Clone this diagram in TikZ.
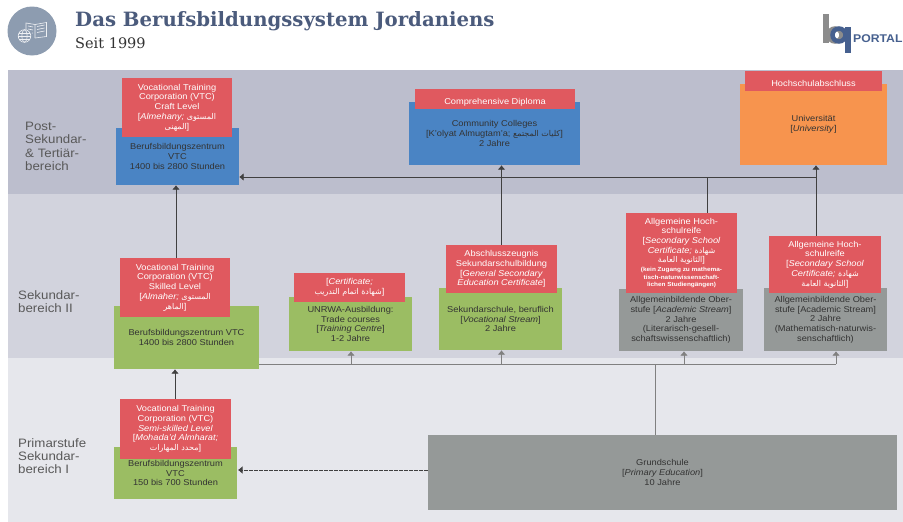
\documentclass[tikz,border=0pt]{standalone}
\usepackage{fontspec}
\setmainfont[FakeStretch=1.09]{Liberation Sans}
\newfontfamily\titlefont{DejaVu Serif}
\newfontfamily\arabicfont[Script=Arabic]{DejaVu Sans}
\TeXXeTstate=1
\newcommand{\arab}[1]{{\arabicfont\fontsize{8}{9.7}\selectfont\beginR #1\endR}}
\newcommand{\notefont}{\bfseries\fontsize{5.9}{7.4}\selectfont}
\usetikzlibrary{arrows.meta}
\definecolor{bandA}{HTML}{BCBECD}
\definecolor{bandB}{HTML}{D2D3DD}
\definecolor{bandC}{HTML}{E6E7EC}
\definecolor{redBox}{HTML}{E0595F}
\definecolor{blueBox}{HTML}{4A84C4}
\definecolor{greenBox}{HTML}{9BBD63}
\definecolor{orangeBox}{HTML}{F7944E}
\definecolor{greyBox}{HTML}{959998}
\definecolor{slate}{HTML}{4B5B7C}
\definecolor{iconGrey}{HTML}{8D9CB0}
\definecolor{logoBlue}{HTML}{46608F}

\begin{document}
\begin{tikzpicture}[
            x=1pt, y=-1pt,
            box/.style={inner sep=0pt, align=center, text=black!80, font=\fontsize{8.5}{9.7}\selectfont,
                execute at begin node=\rule{0pt}{12pt}},
            redbox/.style={box, fill=redBox, text=white},
            bluebox/.style={box, fill=blueBox},
            greenbox/.style={box, fill=greenBox},
            orangebox/.style={box, fill=orangeBox},
            greybox/.style={box, fill=greyBox},
            level/.style={inner sep=0pt, align=left, anchor=north west, text=black!65,
                font=\fontsize{12.2}{13.4}\selectfont},
            conn/.style={draw=black!75, line width=1pt},
            bus/.style={draw=black!50, line width=1pt},
            arr/.style={-{Latex[length=4.5pt,width=8pt]}}]
            \useasboundingbox (0,0) rectangle (903,522);
            \fill[white] (0,0) rectangle (903,522);
            \fill[bandA] (8,70) rectangle (903,194);
            \fill[bandB] (8,194) rectangle (903,358);
            \fill[bandC] (8,358) rectangle (903,522);

            \fill[iconGrey] (32,31) circle (24.5);
            \begin{scope}[draw=white!85!iconGrey, line width=0.6pt]
                \draw (26,30) -- (26,23) -- (35,24.5) -- (35,38);
                \draw (35,24.5) -- (46.5,22.5) -- (46.5,36.5) -- (35,38);
                \draw (28,26) -- (33,27) (28,29) -- (33,30) (32,33) -- (33,33.2);
                \draw (37,26.5) -- (44.5,25) (37,29.5) -- (44.5,28) (37,32.5) -- (44.5,31);
                \draw (24.5,36) circle (6.3);
                \draw (24.5,36) ellipse (2.6 and 6.3);
                \draw (18.2,36) -- (30.8,36) (19.2,33) -- (29.8,33) (19.2,39) -- (29.8,39);
            \end{scope}

            \node[inner sep=0pt, anchor=base west, text=slate] (title) at (75,27)
                {\titlefont\bfseries\fontsize{19.7}{22}\selectfont Das Berufsbildungssystem Jordaniens};
            \node[inner sep=0pt, anchor=base west, text=black!80] (subtitle) at (75,48)
                {\titlefont\fontsize{14.5}{16}\selectfont Seit 1999};

            \fill[black!45] (823,14) rectangle (828.5,43);
            \draw[black!45, line width=4.5pt] (835,35) circle (6.5);
            \draw[logoBlue, line width=4.5pt] (839,35) circle (6.5);
            \fill[logoBlue] (845,27) rectangle (850.5,53);
            \node[inner sep=0pt, anchor=base west, text=logoBlue] (portal) at (853,42)
                {\bfseries\fontsize{11.2}{14}\selectfont PORTAL};

            \node[level] (postLabel) at (25,122) {Post-\\Sekundar-\\\& Tertiär-\\bereich};
            \node[level] (sekLabel) at (18,290) {Sekundar-\\bereich II};
            \node[level] (primLabel) at (18,438) {Primarstufe\\Sekundar-\\bereich I};

            \node[bluebox, minimum width=123pt, minimum height=57pt] (craftCentre) at (177.5,156.5)
                {Berufsbildungszentrum\\VTC\\1400 bis 2800 Stunden};
            \node[redbox, minimum width=110pt, minimum height=59pt] (craftCert) at (177,107.5)
                {Vocational Training\\Corporation (VTC)\\Craft Level\\{[}\textit{Almehany;} \arab{المستوى}\\\arab{المهنى}{]}};
            \node[bluebox, minimum width=171pt, minimum height=63pt] (college) at (494.5,133.5)
                {Community Colleges\\{[}K'olyat Almugtam'a; \arab{كليات المجتمع}{]}\\2 Jahre};
            \node[redbox, minimum width=160pt, minimum height=20pt] (diploma) at (495,99)
                {Comprehensive Diploma};
            \node[orangebox, minimum width=147pt, minimum height=81pt] (uni) at (813.5,124.5)
                {Universität\\{[}\textit{University}{]}};
            \node[redbox, minimum width=137pt, minimum height=20pt] (degree) at (813.5,81)
                {Hochschulabschluss};

            \node[greenbox, minimum width=145pt, minimum height=63pt] (skilledCentre) at (186.5,337.5)
                {Berufsbildungszentrum VTC\\1400 bis 2800 Stunden};
            \node[redbox, minimum width=110pt, minimum height=59pt] (skilledCert) at (175,287.5)
                {Vocational Training\\Corporation (VTC)\\Skilled Level\\{[}\textit{Almaher;} \arab{المستوى}\\\arab{الماهر}{]}};
            \node[greenbox, minimum width=123pt, minimum height=54pt] (unrwa) at (350.5,324)
                {UNRWA-Ausbildung:\\Trade courses\\{[}\textit{Training Centre}{]}\\1-2 Jahre};
            \node[redbox, minimum width=111pt, minimum height=29pt] (unrwaCert) at (349.5,287.5)
                {{[}\textit{Certificate;}\\\arab{شهادة اتمام التدريب}{]}};
            \node[greenbox, minimum width=123pt, minimum height=62pt] (vocSchool) at (500.5,319)
                {Sekundarschule, beruflich\\{[}\textit{Vocational Stream}{]}\\2 Jahre};
            \node[redbox, minimum width=111pt, minimum height=48pt] (vocCert) at (501.5,269)
                {Abschlusszeugnis\\Sekundarschulbildung\\{[}\textit{General Secondary}\\\textit{Education Certificate}{]}};
            \node[greybox, minimum width=124pt, minimum height=62pt] (litSchool) at (681,320)
                {Allgemeinbildende Ober-\\stufe {[}\textit{Academic Stream}{]}\\2 Jahre\\(Literarisch-gesell-\\schaftswissenschaftlich)};
            \node[redbox, minimum width=111pt, minimum height=80pt] (litCert) at (681.5,253)
                {Allgemeine Hoch-\\schulreife\\{[}\textit{Secondary School}\\\textit{Certificate;} \arab{شهادة}\\\arab{الثانوية العامة}{]}\\[-1pt]
                \notefont (kein Zugang zu mathema-\\[-2pt]\notefont tisch-naturwissenschaft-\\[-2pt]\notefont lichen Studiengängen)};
            \node[greybox, minimum width=123pt, minimum height=63pt] (mathSchool) at (825.5,319.5)
                {Allgemeinbildende Ober-\\stufe {[}Academic Stream{]}\\2 Jahre\\(Mathematisch-naturwis-\\senschaftlich)};
            \node[redbox, minimum width=112pt, minimum height=57pt] (mathCert) at (825,264.5)
                {Allgemeine Hoch-\\schulreife\\{[}\textit{Secondary School}\\\textit{Certificate;} \arab{شهادة}\\\arab{الثانوية العامة}{]}};

            \node[greenbox, minimum width=123pt, minimum height=52pt] (semiCentre) at (175.5,473)
                {Berufsbildungszentrum\\VTC\\150 bis 700 Stunden};
            \node[redbox, minimum width=111pt, minimum height=60pt] (semiCert) at (175.5,429)
                {Vocational Training\\Corporation (VTC)\\\textit{Semi-skilled Level}\\{[}\textit{Mohada'd Almharat;}\\\arab{محدد المهارات}{]}};
            \node[greybox, minimum width=469pt, minimum height=75pt] (primary) at (662.5,472.5)
                {Grundschule\\{[}\textit{Primary Education}{]}\\10 Jahre};

            \coordinate (upperEnd) at (816,177);
            \coordinate (upperDrop) at (707,177);
            \coordinate (lowerEnd) at (836,364);
            \coordinate (lowerDrop) at (655,364);

            \draw[conn, arr] (upperEnd) -- (craftCentre.east |- upperEnd);
            \draw[conn, arr] (176,0 |- skilledCert.north) -- (176,0 |- craftCentre.south);
            \draw[conn, arr] (upperEnd |- mathCert.north) -- (upperEnd |- uni.south);
            \draw[conn] (upperDrop) -- (upperDrop |- litCert.north);
            \draw[conn, arr] (501.5,0 |- vocCert.north) -- (501.5,0 |- college.south);

            \draw[bus] (skilledCentre.east |- lowerEnd) -- (lowerEnd);
            \draw[bus] (lowerDrop |- primary.north) -- (lowerDrop);
            \draw[bus, arr] (351,0 |- lowerEnd) -- (351,0 |- unrwa.south);
            \draw[bus, arr] (501.5,0 |- lowerEnd) -- (501.5,0 |- vocSchool.south);
            \draw[bus, arr] (684,0 |- lowerEnd) -- (684,0 |- litSchool.south);
            \draw[bus, arr] (lowerEnd) -- (lowerEnd |- mathSchool.south);
            \draw[conn, arr] (175,0 |- semiCert.north) -- (175,0 |- skilledCentre.south);
            \draw[conn, arr, dash pattern=on 3.5pt off 1.5pt] (primary.west |- 0,470) -- (238,470);
        \end{tikzpicture}
\end{document}
